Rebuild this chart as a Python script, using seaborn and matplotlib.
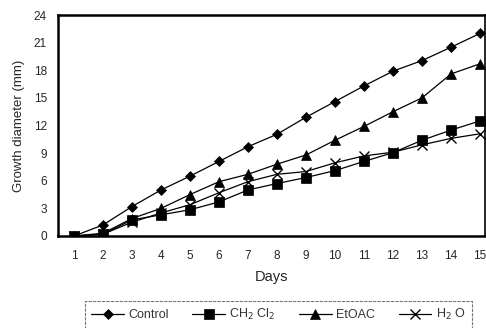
import matplotlib
matplotlib.use("Agg")
import matplotlib.pyplot as plt
import seaborn as sns
import pandas as pd

days = list(range(1, 16))
control = [0.0, 1.2, 3.2, 5.0, 6.5, 8.1, 9.7, 11.05, 12.9, 14.6, 16.3, 17.9, 19.05, 20.5, 22.0]
ch2cl2 = [0.0, 0.2, 1.75, 2.3, 2.85, 3.7, 5.0, 5.7, 6.35, 7.1, 8.1, 9.05, 10.4, 11.5, 12.5]
etoac = [0.0, 0.3, 1.9, 3.0, 4.5, 5.9, 6.7, 7.8, 8.8, 10.4, 11.9, 13.5, 15.0, 17.6, 18.7]
h2o = [0.0, 0.2, 1.5, 2.5, 3.4, 4.7, 5.9, 6.7, 7.0, 7.95, 8.7, 9.1, 9.9, 10.6, 11.1]
labels = ["Control", "CH$_2$ Cl$_2$", "EtOAC", "H$_2$ O"]
yticks = [0, 3, 6, 9, 12, 15, 18, 21, 24]

sns.set_style("white")
plt.rcParams['font.family'] = ['Liberation Sans', 'DejaVu Sans']

fig = plt.figure(figsize=(4.86, 3.28), dpi=100)
ax = fig.add_axes([58/486, 1-236/328, (485-58)/486, (236-15)/328])

markers = ["D", "s", "^", "x"]
msizes = [5.5, 7, 7, 7]
for vals, lab, m, ms in zip([control, ch2cl2, etoac, h2o], labels, markers, msizes):
    df = pd.DataFrame({"Days": days, "v": vals})
    sns.lineplot(data=df, x="Days", y="v", ax=ax, color="black", lw=0.9,
                 marker=m, markersize=ms, markeredgecolor="black",
                 markerfacecolor="black", markeredgewidth=1.0 if m == "x" else 0.5,
                 label=lab, legend=False)

ax.set_xlim(1 - 16/29, 15 + 5/29)
ax.set_ylim(0, 24)
ax.set_xticks(days)
ax.set_xticklabels([str(d) for d in days])
ax.set_yticks(yticks)
ax.tick_params(axis="both", labelsize=8.5, length=2, width=0.8, color="black", pad=8)
ax.tick_params(axis="x", direction="in", pad=10)
ax.tick_params(axis="y", direction="out", pad=6)
for s in ax.spines.values():
    s.set_color("black")
    s.set_linewidth(1.8)
ax.spines["right"].set_linewidth(1.2)
ax.set_xlabel("Days", fontsize=10.5, labelpad=6)
ax.set_ylabel("Growth diameter (mm)", fontsize=9.5, labelpad=6)

handles, labs = ax.get_legend_handles_labels()
leg = fig.legend(handles, labs, loc="upper left", bbox_to_anchor=(85/486, 1-301/328),
                 ncol=4, fontsize=9.0, frameon=True, fancybox=False,
                 handlelength=2.6, columnspacing=1.9, handletextpad=0.35,
                 borderpad=0.5, borderaxespad=0)
leg.get_frame().set_edgecolor("#555555")
leg.get_frame().set_linewidth(0.8)
leg.get_frame().set_linestyle((0, (3, 1)))
for t in leg.get_texts():
    t.set_color("#333333")

fig.savefig("out.png", dpi=100)
